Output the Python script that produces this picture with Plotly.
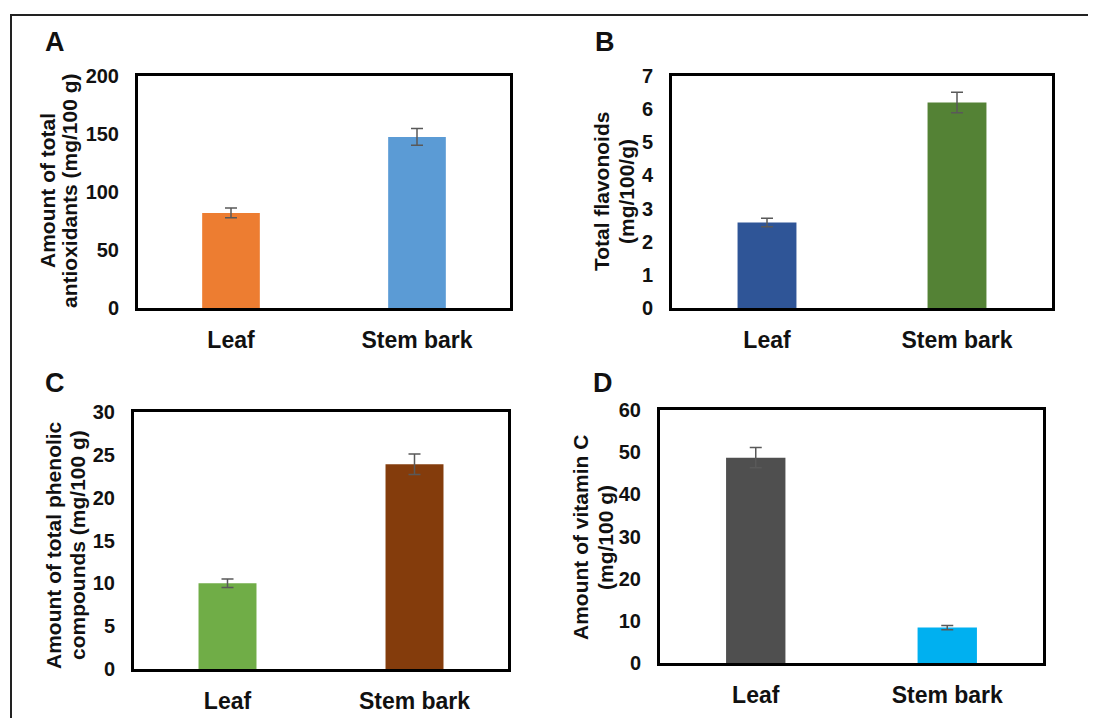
import plotly.graph_objects as go

W, H = 1096, 718
OFF = 8  # page body margin in the browser

categories = ["Leaf", "Stem bark"]

# Panel A: total antioxidants
a_values = [82, 147.5]
a_errors = [4.3, 7.2]
a_colors = ["#ED7D31", "#5B9BD5"]
a_ticks = [0, 50, 100, 150, 200]

# Panel B: total flavonoids
b_values = [2.58, 6.2]
b_errors = [0.13, 0.31]
b_colors = ["#2F5597", "#548235"]
b_ticks = [0, 1, 2, 3, 4, 5, 6, 7]

# Panel C: total phenolic compounds
c_values = [10.0, 23.9]
c_errors = [0.5, 1.2]
c_colors = ["#70AD47", "#843C0C"]
c_ticks = [0, 5, 10, 15, 20, 25, 30]

# Panel D: vitamin C
d_values = [48.7, 8.4]
d_errors = [2.4, 0.5]
d_colors = ["#4F4F4F", "#00B0F0"]
d_ticks = [0, 10, 20, 30, 40, 50, 60]

FONT = "Liberation Sans, Arial, sans-serif"

def px_x(p):
    return (p - OFF) / W

def px_y(p):
    return 1 - (p - OFF) / H

panels = [
    (a_values, a_errors, a_colors, a_ticks, (138, 510, 76, 308), "A", (55, 42),
     ["Amount of total", "antioxidants (mg/100 g)"], [(48, 191), (70, 191)]),
    (b_values, b_errors, b_colors, b_ticks, (672, 1052, 76, 308), "B", (605, 42),
     ["Total flavonoids", "(mg/100/g)"], [(601, 192), (626, 192)]),
    (c_values, c_errors, c_colors, c_ticks, (134, 508, 412, 669), "C", (55, 383),
     ["Amount of total phenolic", "compounds (mg/100 g)"], [(53, 545), (77, 545)]),
    (d_values, d_errors, d_colors, d_ticks, (660, 1043, 410, 663), "D", (603, 383),
     ["Amount of vitamin C", "(mg/100 g)"], [(580, 538), (605, 538)]),
]

fig = go.Figure()
annotations = []
layout_axes = {}

for i, (vals, errs, cols, ticks, box, letter, lpos, tlines, tpos) in enumerate(panels):
    n = "" if i == 0 else str(i + 1)
    fig.add_trace(go.Bar(
        x=categories, y=vals, width=0.31,
        marker=dict(color=cols, line=dict(width=0)),
        error_y=dict(type="data", array=errs, visible=True,
                     color="#595959", thickness=1.5, width=6),
        xaxis="x" + n, yaxis="y" + n, showlegend=False,
    ))
    l, r, t, b = box
    layout_axes["xaxis" + n] = dict(
        domain=[px_x(l), px_x(r)], anchor="y" + n, automargin=False,
        range=[-0.5, 1.5], showgrid=False, zeroline=False,
        showline=True, mirror=True, linecolor="black", linewidth=3,
        ticks="", ticklabelstandoff=9,
        tickfont=dict(family=FONT, size=23, color="#111", weight="bold"),
        fixedrange=True,
    )
    layout_axes["yaxis" + n] = dict(
        domain=[px_y(b), px_y(t)], anchor="x" + n, automargin=False,
        range=[ticks[0], ticks[-1]], tickvals=ticks,
        showgrid=False, zeroline=False,
        showline=True, mirror=True, linecolor="black", linewidth=3,
        ticks="", ticklabelstandoff=12,
        tickfont=dict(family=FONT, size=20, color="#111", weight="bold"),
        fixedrange=True,
    )
    annotations.append(dict(
        text=letter, x=px_x(lpos[0]), y=px_y(lpos[1]), xref="paper", yref="paper",
        showarrow=False, xanchor="center", yanchor="middle",
        font=dict(family=FONT, size=27, color="#111", weight="bold"),
    ))
    for line, (tx, ty) in zip(tlines, tpos):
        annotations.append(dict(
            text=line, x=px_x(tx), y=px_y(ty), xref="paper", yref="paper",
            showarrow=False, xanchor="center", yanchor="middle", textangle=-90,
            font=dict(family=FONT, size=21, color="#111", weight="bold"),
        ))

fig.update_layout(
    width=W, height=H,
    margin=dict(l=0, r=0, t=0, b=0, autoexpand=False),
    paper_bgcolor="white", plot_bgcolor="white",
    annotations=annotations,
    shapes=[dict(type="rect", xref="paper", yref="paper",
                 x0=px_x(11), x1=1.05, y0=-0.05, y1=px_y(15),
                 line=dict(color="#222", width=2))],
    **layout_axes,
)

fig.write_html("out.html")
